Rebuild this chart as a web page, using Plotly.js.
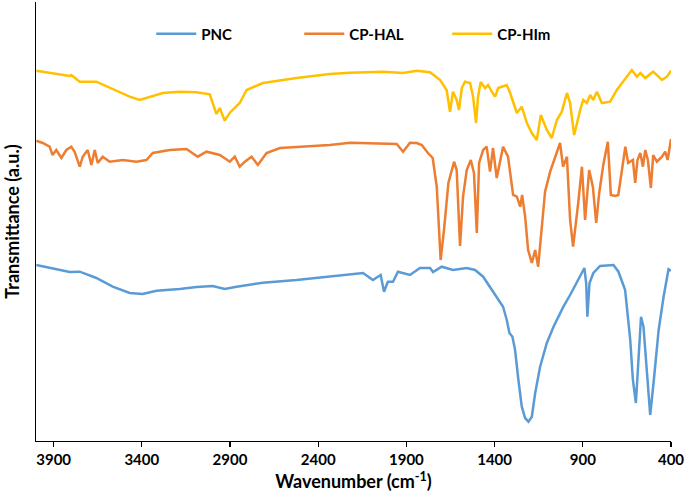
<!DOCTYPE html>
<html>
<head>
<meta charset="utf-8">
<script src="https://cdn.plot.ly/plotly-3.0.1.min.js"></script>
<style>html,body{margin:0;padding:0;background:#fff;}#chart{width:685px;height:503px;}</style>
</head>
<body>
<div id="chart"></div>
<script>
// Wavenumber (cm-1) and transmittance (a.u., offset spectra)
const pncWn = [3998,3923,3809,3752,3658,3565,3469,3395,3317,3185,3090,2998,2930,2863,2714,2523,2334,2220,2146,2090,2046,2027,2005,1976,1948,1880,1823,1766,1749,1700,1636,1558,1511,1465,1409,1369,1352,1331,1316,1299,1284,1265,1246,1227,1208,1189,1170,1142,1104,1066,1010,972,915,891,881,874,862,840,802,726,698,660,631,616,599,584,570,556,536,518,499,470,442,414,400];
const pncT  = [176,173,169,169.3,163,154.3,148,147,150.3,152,154,155,152,154.3,158.3,161,164.3,166,168,161,166,149.3,159.3,159.3,169.3,166,173,173,169,174.3,171,173,171,164.3,149.3,138,134.3,121,108,104.3,91,61,34.3,23,19.3,24.3,48,74.3,98,114.3,134.3,146,164.3,173,158,124.3,158,168,175,176,169.3,151,101,61,38,88,124.3,114.3,68,26,58,111,144.3,171.7,170.3];

const halWn = [3998,3962,3923,3906,3885,3856,3828,3800,3781,3752,3735,3707,3686,3667,3650,3622,3582,3508,3431,3374,3338,3242,3147,3111,3083,3033,2958,2901,2873,2845,2816,2778,2742,2693,2617,2523,2334,2220,2033,1955,1919,1880,1842,1813,1778,1751,1728,1706,1687,1662,1630,1615,1596,1579,1558,1535,1517,1501,1488,1465,1445,1426,1409,1388,1352,1324,1295,1274,1255,1244,1227,1210,1189,1170,1153,1132,1114,1085,1057,1029,1012,990,972,955,926,905,887,864,843,824,807,784,758,741,716,699,678,659,643,616,603,590,574,559,546,531,514,501,480,451,433,419,400];
const halT  = [300.3,298,294.3,286,291,283,291,294.3,289.3,274.3,284.3,291,276,291,278,284.3,279.3,281,279.3,281,288,291,292,288,284.3,289.3,286,279.3,284.3,274.3,279.3,284.3,276,288,293,294,296,298.3,297,297,289.3,298.3,298,296,288,283,254.3,181,211,258,279.3,271,195,244.3,271,281,268,208,278,291,294.3,269.3,293,263,294.3,284.3,246,244.3,234.3,246,224.3,191,178,191,174.3,211,249.3,269.3,284.3,298,274.3,284.3,221,194.3,238,274.3,221,271,254.3,218,248,276,299.3,246,245,246,271,294.3,278,281,258,281,288,274.3,291,281,253,286,279.3,284.3,289.3,281,302];

const himWn = [3998,3809,3800,3752,3658,3469,3412,3355,3281,3185,3090,3015,2998,2977,2958,2930,2901,2845,2806,2714,2523,2334,2220,2033,1919,1842,1766,1709,1672,1653,1636,1615,1602,1586,1568,1539,1522,1505,1494,1479,1454,1437,1416,1397,1380,1331,1312,1295,1274,1246,1217,1189,1161,1138,1104,1076,1047,1019,990,972,949,915,898,877,858,841,820,792,745,707,650,622,593,574,546,501,451,423,400];
const himT  = [370.3,365,366,359.3,359.3,344.3,341,344.3,348,349.3,348.7,346.7,338,327,333,320.3,328.3,338,351,358,363,367,368.3,369.3,368,370.3,368.7,361,351,329.3,349.3,341,331,353,359.3,358,344.3,318,344.3,359,353,356,349.3,344.3,353,356,348,338,328,334.3,318,308,301,326,311,303,321,329.3,348,338,306,331,341,338,346,341,349.3,338,339.3,351,364.3,371,364.3,368,363,369.3,361,364.3,370.3];

const seriesNames = ['PNC', 'CP-HAL', 'CP-HIm'];
const xTicks = [3900, 3400, 2900, 2400, 1900, 1400, 900, 400];

const FONT = 'Lato, "Open Sans", sans-serif';
const colors = ['#5B9BD5', '#ED7D31', '#FFC000'];
const xs = [pncWn, halWn, himWn];
const ys = [pncT, halT, himT];

const traces = seriesNames.map((n, i) => ({
  type: 'scatter', mode: 'lines', name: n,
  x: xs[i], y: ys[i],
  line: {color: colors[i], width: 2.5},
  hoverinfo: 'x+y+name'
}));

const layout = {
  width: 685, height: 503,
  margin: {l: 36, r: 14, t: 2, b: 62},
  paper_bgcolor: '#fff', plot_bgcolor: '#fff',
  font: {family: FONT, color: '#000'},
  showlegend: true,
  legend: {
    orientation: 'h', x: 0.1815, xanchor: 'left', y: 0.927, yanchor: 'middle',
    font: {family: FONT, size: 15, color: '#000', weight: 'bold'},
    itemwidth: 40, entrywidth: 93, bgcolor: 'rgba(0,0,0,0)'
  },
  xaxis: {
    range: [4000, 400], autorange: false,
    tickmode: 'array', tickvals: xTicks, ticktext: xTicks.map(String),
    ticks: 'outside', ticklen: 5, tickwidth: 1.3, tickcolor: '#000',
    showline: true, linecolor: '#000', linewidth: 1.3,
    showgrid: false, zeroline: false,
    tickfont: {family: FONT, size: 15, color: '#000', weight: 'bold'},
    title: {text: 'Wavenumber (cm<sup>-1</sup>)', font: {family: FONT, size: 18, color: '#000', weight: 'bold'}, standoff: 8}
  },
  yaxis: {
    range: [0, 439], autorange: false,
    showticklabels: false, ticks: '',
    showline: true, linecolor: '#000', linewidth: 1.3,
    showgrid: false, zeroline: false,
    title: {text: 'Transmittance (a.u.)', font: {family: FONT, size: 18, color: '#000', weight: 'bold'}, standoff: 10}
  }
};

Plotly.newPlot('chart', traces, layout, {displayModeBar: false, staticPlot: true});
</script>
</body>
</html>
